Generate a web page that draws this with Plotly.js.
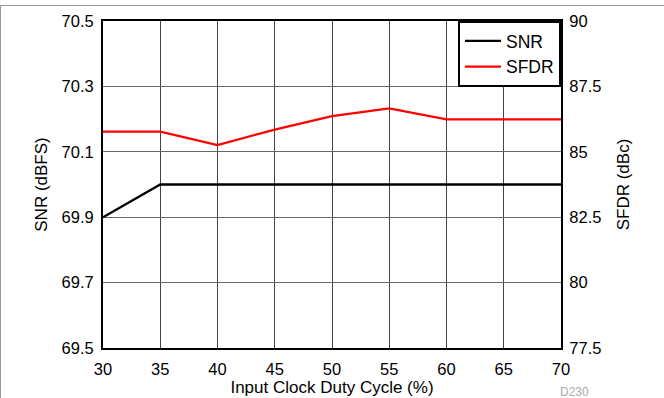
<!DOCTYPE html>
<html>
<head>
<meta charset="utf-8">
<script src="https://cdn.plot.ly/plotly-3.0.1.min.js"></script>
<style>
html,body{margin:0;padding:0;background:#fff;}
#wrap{position:relative;width:664px;height:398px;}
#chart{width:664px;height:398px;}
#topline{position:absolute;left:0;top:5px;width:664px;height:1px;background:#999;}
#leftline{position:absolute;left:0;top:5px;width:1px;height:393px;background:#999;}
</style>
</head>
<body>
<div id="wrap">
<div id="chart"></div>
<div id="topline"></div>
<div id="leftline"></div>
</div>
<script>
const dutyCycle = [30, 35, 40, 45, 50, 55, 60, 65, 70];
const snr = [69.9, 70.0, 70.0, 70.0, 70.0, 70.0, 70.0, 70.0, 70.0];
const sfdr = [85.77, 85.77, 85.26, 85.85, 86.36, 86.66, 86.24, 86.24, 86.24];
const xTicks = [30, 35, 40, 45, 50, 55, 60, 65, 70];
const snrTicks = [69.5, 69.7, 69.9, 70.1, 70.3, 70.5];
const sfdrTicks = [77.5, 80, 82.5, 85, 87.5, 90];

const fam = 'Liberation Sans, Arial, sans-serif';
const tickFont = {family: fam, size: 16.5, color: '#000'};
const titleFont = {family: fam, size: 17, color: '#000'};

const traces = [
  {x: dutyCycle, y: snr, name: 'SNR', type: 'scatter', mode: 'lines',
   line: {color: '#000000', width: 2.3}, yaxis: 'y'},
  {x: dutyCycle, y: sfdr, name: 'SFDR', type: 'scatter', mode: 'lines',
   line: {color: '#ff0000', width: 2.3}, yaxis: 'y2'}
];

const layout = {
  width: 664, height: 398,
  margin: {l: 103, r: 103, t: 21, b: 50, pad: 0},
  paper_bgcolor: '#fff', plot_bgcolor: '#fff',
  font: tickFont,
  showlegend: true,
  legend: {x: 1, xanchor: 'right', y: 1, yanchor: 'top',
    bordercolor: '#000', borderwidth: 2, bgcolor: '#fff',
    font: {family: fam, size: 17.5, color: '#000'},
    tracegroupgap: 0, itemwidth: 36},
  xaxis: {range: [30, 70], tickvals: xTicks, ticktext: xTicks.map(String),
    showgrid: true, gridcolor: '#444', gridwidth: 1,
    showline: true, linecolor: '#000', linewidth: 2, mirror: true,
    ticks: 'outside', ticklen: 5, tickcolor: 'rgba(0,0,0,0)', zeroline: false, tickfont: tickFont,
    title: {text: 'Input Clock Duty Cycle (%)', font: titleFont, standoff: 0}},
  yaxis: {range: [69.5, 70.5], tickvals: snrTicks, ticktext: snrTicks.map(v => v.toFixed(1)),
    showgrid: true, gridcolor: '#666', gridwidth: 1,
    showline: true, linecolor: '#000', linewidth: 2, mirror: true,
    ticks: 'outside', ticklen: 4, tickcolor: 'rgba(0,0,0,0)', zeroline: false, tickfont: tickFont,
    title: {text: 'SNR (dBFS)', font: titleFont, standoff: 10}},
  yaxis2: {range: [77.5, 90], tickvals: sfdrTicks, ticktext: sfdrTicks.map(String),
    overlaying: 'y', side: 'right', showgrid: false, zeroline: false,
    ticks: 'outside', ticklen: 4, tickcolor: 'rgba(0,0,0,0)', tickfont: tickFont,
    title: {text: 'SFDR (dBc)', font: titleFont, standoff: 16}},
  annotations: [{text: 'D230', xref: 'paper', yref: 'paper', x: 1.03, y: -0.135,
    xanchor: 'center', yanchor: 'middle', showarrow: false,
    font: {family: fam, size: 12, color: '#aaa'}}]
};

Plotly.newPlot('chart', traces, layout, {displayModeBar: false, staticPlot: true});
</script>
</body>
</html>
